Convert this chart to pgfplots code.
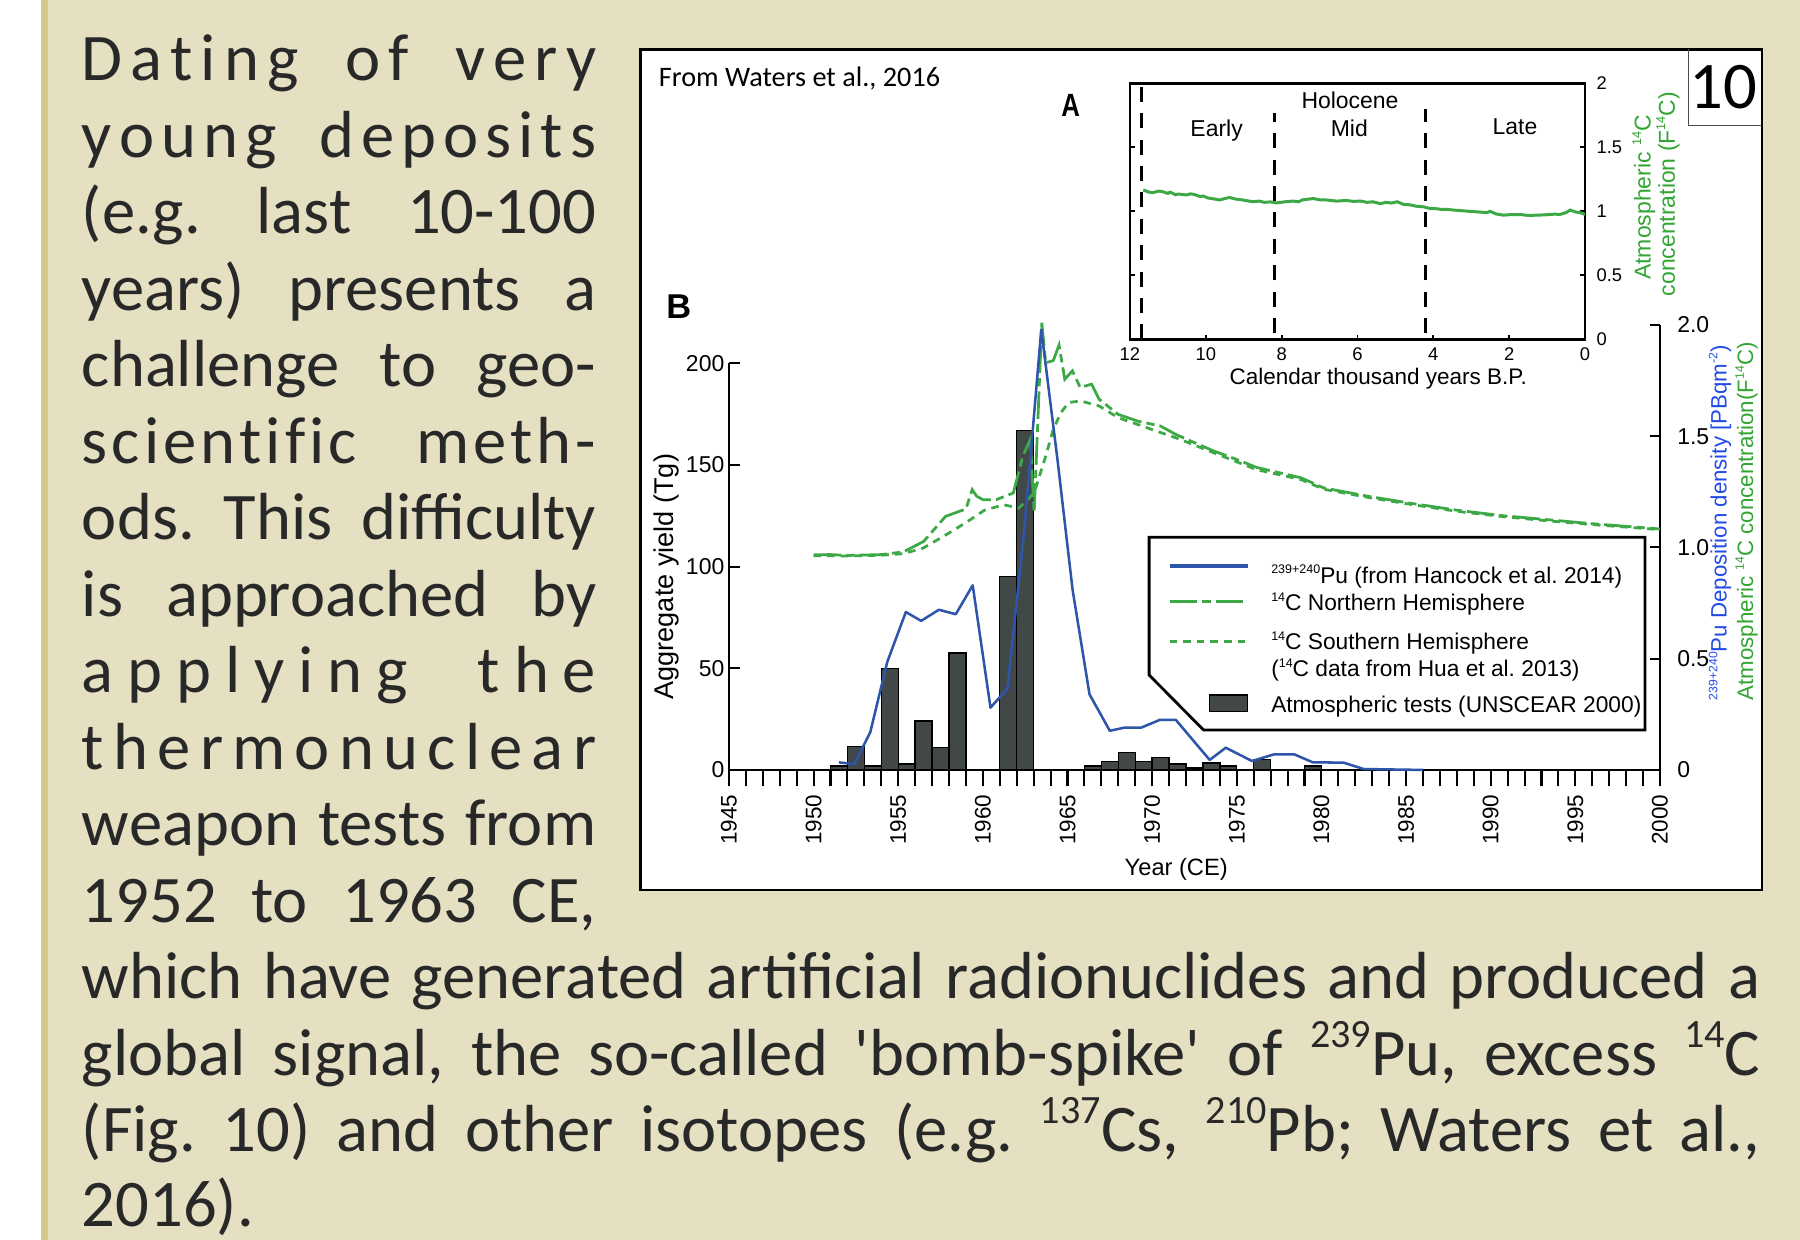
\documentclass[border=0pt]{standalone}
\usepackage{fontspec}
\setmainfont{Liberation Sans}
\newfontfamily\bodyfont{Carlito}
\usepackage{graphicx}
\usepackage{pgfplots}
\pgfplotsset{compat=1.18}
\definecolor{bg}{RGB}{229,224,194}
\definecolor{olive}{RGB}{210,200,140}
\definecolor{txt}{RGB}{40,40,40}
\definecolor{pblue}{RGB}{45,85,170}
\definecolor{lblue}{RGB}{35,75,230}
\definecolor{pgreen}{RGB}{60,168,70}
\definecolor{lgreen}{RGB}{50,165,50}
\definecolor{barc}{RGB}{66,72,72}
\newcommand\sz[1]{\fontsize{#1}{#1}\selectfont}
\newcommand\fs[1]{\raisebox{0.42em}{\scalebox{0.55}{#1}}}
\newcommand\bsup[1]{\raisebox{0.42em}{\fontsize{17.5}{17.5}\selectfont #1}}
\makeatletter
\def\ls#1{\ls@a#1\relax}
\def\ls@a#1{#1\ls@b}
\def\ls@b#1{\ifx\relax#1\else\hspace{0pt plus 1fil}#1\expandafter\ls@b\fi}
\makeatother
\newcommand\wg[1]{\hspace{0pt plus 1fil}\ \hspace{0pt plus #1fil}}
\newcommand\bline[3]{\node[anchor=base west, inner sep=0pt, text=txt, font={\bodyfont\sz{29}}] at (71,#1) {\makebox[#2][s]{#3}};}
\frenchspacing
\begin{document}
\frenchspacing
\begin{tikzpicture}
\begin{scope}[x=0.5pt,y=-0.5pt]
\path[use as bounding box] (0,0) rectangle (1568,1080);
\fill[white] (0,0) rectangle (36,1080);
\fill[olive] (36,0) rectangle (42,1080);
\fill[bg] (42,0) rectangle (1568,1080);
\draw[line width=1pt, fill=white] (558,43) rectangle (1535,775);
\draw[line width=0.5pt, draw=black!70] (1471,43) -- (1471,109) -- (1535,109);
\end{scope}

% ---- main panel B: bars (left scale) and x axis
\begin{axis}[at={(317.5pt,-335.35pt)}, anchor=south west,
  scale only axis, width=405.5pt, height=177.1pt,
  xmin=1945, xmax=2000, ymin=0, ymax=200, clip=false,
  axis x line*=bottom, axis y line=none,
  xtick={1945,1950,...,2000},
  xticklabels={1945,1950,1955,1960,1965,1970,1975,1980,1985,1990,1995,2000},
  minor x tick num=4,
  tick align=outside, major tick length=7.2pt, minor tick length=7.2pt,
  x axis line style={line width=1.2pt},
  tick style={line width=0.9pt, black},
  xticklabel style={rotate=90, anchor=east, font=\sz{9.8}},
  ytick=\empty]
\addplot[ybar interval, fill=barc, draw=black, line width=0.6pt] coordinates {
(1951,2) (1952,11.5) (1953,2) (1954,50) (1955,3) (1956,24) (1957,11) (1958,57.5)
(1959,0) (1960,0) (1961,95) (1962,167) (1963,0) (1964,0) (1965,0) (1966,2)
(1967,4) (1968,8.5) (1969,4) (1970,6) (1971,3) (1972,1) (1973,3.4) (1974,2)
(1975,0) (1976,5) (1977,0) (1978,0) (1979,2) (1980,0) (1981,0)};
\end{axis}

% ---- left y axis
\begin{axis}[at={(317.5pt,-335.35pt)}, anchor=south west,
  scale only axis, width=405.5pt, height=177.1pt,
  xmin=1945, xmax=2000, ymin=0, ymax=200,
  axis y line*=left, axis x line=none, xtick=\empty,
  ytick={0,50,100,150,200}, yticklabels={0,50,100,150,200},
  tick align=inside, major tick length=5pt,
  y axis line style={line width=1pt},
  tick style={line width=0.9pt, black},
  yticklabel style={font=\sz{10}, xshift=1.5pt}]
\end{axis}

% ---- right y axis with Pu and 14C curves
\begin{axis}[at={(317.5pt,-335.35pt)}, anchor=south west,
  scale only axis, width=405.5pt, height=193.8pt,
  xmin=1945, xmax=2000, ymin=0, ymax=2, clip=false,
  axis y line*=right, axis x line=none, xtick=\empty,
  ytick={0,0.5,1,1.5,2}, yticklabels={0,0.5,1.0,1.5,2.0},
  tick align=inside, major tick length=4.3pt,
  y axis line style={line width=1pt},
  tick style={line width=0.9pt, black},
  yticklabel style={font=\sz{10}, xshift=4pt}]
\addplot[pgreen, line width=1.2pt, dash pattern=on 3.3pt off 2.6pt] coordinates {
(1950.0,0.963) (1952.0,0.962) (1954.0,0.965) (1955.3,0.972) (1956.47,0.997)
(1957.83,1.057) (1958.96,1.11) (1960.09,1.167) (1961.22,1.192) (1962.13,1.177)
(1963.03,1.245) (1963.71,1.41) (1964.16,1.531) (1964.61,1.606) (1965.06,1.651)
(1965.75,1.659) (1966.87,1.636) (1968.0,1.583) (1969.14,1.553) (1970.26,1.523)
(1971.4,1.493) (1973.66,1.425) (1976.16,1.35) (1978.8,1.305) (1980.12,1.262)
(1982.76,1.225) (1985.41,1.192) (1988.05,1.162) (1990.69,1.139) (1993.33,1.12)
(1995.97,1.103) (2000.0,1.08)};
\addplot[pgreen, line width=1.2pt, dash pattern=on 12pt off 2.2pt on 3.6pt off 2.2pt] coordinates {
(1950.0,0.967) (1951.0,0.968) (1952.0,0.964) (1953.0,0.966) (1954.0,0.968)
(1955.3,0.98) (1956.5,1.027) (1957.8,1.14) (1959.0,1.173) (1959.37,1.26)
(1959.64,1.23) (1960.0,1.215) (1960.8,1.215) (1961.8,1.245) (1962.36,1.41)
(1962.8,1.486) (1963.03,1.155) (1963.48,2.01) (1963.71,1.83) (1964.16,1.84)
(1964.5,1.91) (1964.84,1.756) (1965.29,1.794) (1965.75,1.719) (1966.42,1.734)
(1966.87,1.666) (1968.0,1.598) (1969.14,1.568) (1970.49,1.546) (1971.4,1.508)
(1972.53,1.47) (1973.66,1.433) (1975.02,1.395) (1976.16,1.36) (1978.8,1.313)
(1980.12,1.268) (1982.76,1.23) (1985.41,1.197) (1988.05,1.167) (1990.69,1.143)
(1993.33,1.125) (1995.97,1.107) (2000.0,1.083)};
\addplot[pblue, line width=1.1pt, line join=round] coordinates {
(1951.5,0.034) (1952.4,0.026) (1953.35,0.17) (1954.35,0.485) (1955.45,0.71)
(1956.35,0.67) (1957.4,0.72) (1958.4,0.70) (1959.4,0.83) (1960.45,0.28)
(1961.45,0.365) (1962.45,1.08) (1963.45,1.98) (1964.4,1.40) (1965.3,0.81)
(1966.3,0.34) (1967.5,0.176) (1968.35,0.19) (1969.35,0.19) (1970.45,0.225)
(1971.4,0.225) (1973.4,0.045) (1974.35,0.10) (1975.9,0.04) (1977.2,0.07)
(1978.4,0.07) (1979.5,0.034) (1981.3,0.033) (1982.5,0.004) (1986.0,0.0)};
\end{axis}

% ---- inset A
\begin{axis}[at={(492.15pt,-147.8pt)}, anchor=south west,
  scale only axis, width=198.2pt, height=111.5pt,
  xmin=0, xmax=12, x dir=reverse, ymin=0, ymax=2,
  axis line style={line width=1.2pt},
  xtick={0,2,4,6,8,10,12}, xticklabels={0,2,4,6,8,10,12},
  ytick={0,0.5,1,1.5,2}, yticklabels={0,0.5,1,1.5,2},
  yticklabel pos=right, ytick pos=both, xtick pos=left,
  tick align=inside, major tick length=2pt,
  tick style={line width=0.8pt, black},
  ticklabel style={font=\sz{8}},
  yticklabel style={xshift=1.5pt}]
\addplot[black, line width=1.3pt, dash pattern=on 6.5pt off 5pt] coordinates {(11.7,0) (11.7,2)};
\addplot[black, line width=1.3pt, dash pattern=on 6.5pt off 5pt] coordinates {(8.2,0.05) (8.2,1.77)};
\addplot[black, line width=1.3pt, dash pattern=on 6.5pt off 5pt] coordinates {(4.2,0.05) (4.2,1.8)};
\addplot[pgreen, line width=1.3pt] coordinates {
(11.65,1.167) (11.5,1.15) (11.39,1.146) (11.25,1.158) (11.15,1.155) (11.0,1.14) (10.94,1.15)
(10.8,1.13) (10.72,1.135) (10.5,1.128) (10.4,1.137) (10.28,1.13) (10.15,1.115) (10.07,1.12)
(9.95,1.105) (9.85,1.10) (9.63,1.089) (9.5,1.1) (9.37,1.108) (9.2,1.095) (9.05,1.09)
(8.9,1.082) (8.75,1.075) (8.6,1.08) (8.45,1.07) (8.3,1.074) (8.13,1.066) (7.9,1.075)
(7.7,1.08) (7.55,1.075) (7.45,1.09) (7.3,1.095) (7.16,1.10) (7.0,1.09) (6.85,1.09)
(6.7,1.085) (6.55,1.08) (6.3,1.085) (6.11,1.078) (5.9,1.08) (5.75,1.07) (5.6,1.075)
(5.4,1.06) (5.25,1.07) (5.1,1.065) (4.95,1.075) (4.79,1.055) (4.6,1.05) (4.45,1.04)
(4.25,1.035) (4.09,1.022) (3.9,1.02) (3.8,1.015) (3.6,1.015) (3.48,1.01) (3.25,1.005)
(3.05,1.0) (2.8,0.995) (2.59,0.99) (2.5,1.0) (2.35,0.98) (2.15,0.97) (1.95,0.975)
(1.7,0.975) (1.5,0.968) (1.27,0.97) (1.1,0.972) (0.95,0.975) (0.8,0.978) (0.66,0.976)
(0.5,0.99) (0.39,1.01) (0.25,0.995) (0.13,0.99) (0.0,0.976)};
\end{axis}

\begin{scope}[x=0.5pt,y=-0.5pt]
% body text
\bline{70.3}{224pt}{\ls{Dating}\wg{3}\ls{of}\wg{3}\ls{very}}
\bline{136.95}{224pt}{\ls{young}\wg{3}\ls{deposits}}
\bline{203.6}{224pt}{(e.g. last 10-100}
\bline{270.25}{224pt}{years) presents a}
\bline{336.9}{224pt}{challenge to geo-}
\bline{403.55}{224pt}{\ls{scientific}\wg{10}\ls{meth-}}
\bline{470.2}{224pt}{ods. This difficulty}
\bline{536.85}{224pt}{is approached by}
\bline{603.5}{224pt}{\ls{applying}\wg{3}\ls{the}}
\bline{670.15}{224pt}{\ls{thermonuclear}}
\bline{736.8}{224pt}{weapon tests from}
\bline{803.45}{224pt}{1952 to 1963 CE,}
\bline{870.1}{731pt}{which have generated artificial radionuclides and produced a}
\bline{936.75}{731pt}{global signal, the so-called \textquotesingle bomb-spike\textquotesingle\ of \bsup{239}Pu, excess \bsup{14}C}
\bline{1003.4}{731pt}{(Fig. 10) and other isotopes (e.g. \bsup{137}Cs, \bsup{210}Pb; Waters et al.,}
\node[anchor=base west, inner sep=0pt, text=txt, font={\bodyfont\sz{29}}] at (71,1068) {2016).};

% figure texts
\node[font={\bodyfont\sz{29}}, text=black] at (1501,76) {10};
\node[anchor=base west, inner sep=0pt, font={\bodyfont\sz{12.3}}] at (573.6,75.5) {From Waters et al., 2016};
\node[font={\bfseries\sz{14}}] at (932.7,91.5) {\scalebox{0.8}[1]{A}};
\node[font={\bfseries\sz{15}}] at (591.3,267) {B};

\node[anchor=base, font=\sz{10}] at (1176,94.3) {Holocene};
\node[anchor=base, font=\sz{10}] at (1059.8,119) {Early};
\node[anchor=base, font=\sz{10}] at (1175.4,119) {Mid};
\node[anchor=base, font=\sz{10}] at (1319.7,117.5) {Late};
\node[anchor=base, font=\sz{9.8}] at (1200.6,335) {Calendar thousand years B.P.};
\node[rotate=90, text=lgreen, font=\sz{10}] at (1432,172) {Atmospheric \fs{14}C};
\node[rotate=90, text=lgreen, font=\sz{10}] at (1453,169) {concentration (F\fs{14}C)};

\node[anchor=base, font=\sz{10.3}] at (1024.6,762.4) {Year (CE)};
\node[rotate=90, font=\sz{11.8}] at (580.8,502.3) {Aggregate yield (Tg)};
\node[rotate=90, anchor=west, text=lblue, font=\sz{9.7}] at (1498.3,617) {\fs{239+240}Pu Deposition density [PBqm\fs{-2})};
\node[rotate=90, anchor=west, text=lgreen, font=\sz{9.7}] at (1521.5,617) {Atmospheric \fs{14}C concentration(F\fs{14}C)};

% legend
\draw[line width=1.2pt, line join=miter] (1001,468) -- (1433,468) -- (1433,636) -- (1048.5,636) -- (1001,588) -- cycle;
\draw[pblue, line width=1.4pt] (1019,493) -- (1087,493);
\draw[pgreen, line width=1.3pt, dash pattern=on 12pt off 2.2pt on 3.6pt off 2.2pt] (1019,524) -- (1087,524);
\draw[pgreen, line width=1.3pt, dash pattern=on 3.3pt off 2.6pt] (1019,559) -- (1087,559);
\draw[fill=barc, draw=black, line width=0.6pt] (1053.4,605.4) rectangle (1086.5,619.9);
\node[anchor=base west, inner sep=0pt, font=\sz{9.9}] at (1107,508) {\fs{239+240}Pu (from Hancock et al. 2014)};
\node[anchor=base west, inner sep=0pt, font=\sz{9.9}] at (1107,532) {\fs{14}C Northern Hemisphere};
\node[anchor=base west, inner sep=0pt, font=\sz{9.9}] at (1107,566) {\fs{14}C Southern Hemisphere};
\node[anchor=base west, inner sep=0pt, font=\sz{9.9}] at (1107,589.5) {(\fs{14}C data from Hua et al. 2013)};
\node[anchor=base west, inner sep=0pt, font=\sz{9.9}] at (1107,620.5) {Atmospheric tests (UNSCEAR 2000)};
\end{scope}
\end{tikzpicture}
\end{document}
